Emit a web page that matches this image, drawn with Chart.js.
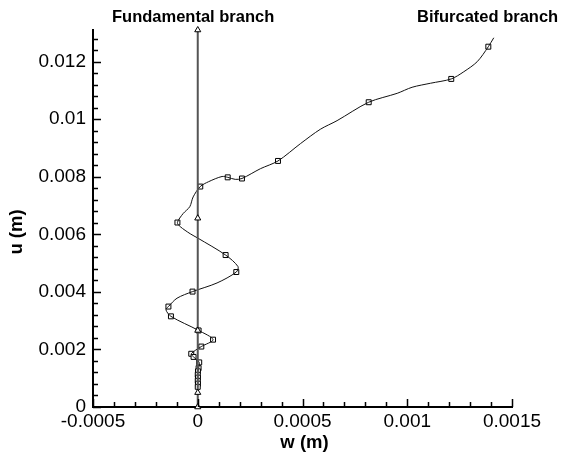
<!DOCTYPE html>
<html>
<head>
<meta charset="utf-8">
<script src="https://cdn.jsdelivr.net/npm/chart.js@4/dist/chart.umd.min.js"></script>
<style>
  html, body { margin: 0; padding: 0; background: #fff; }
  #wrap { width: 562px; height: 454px; }
</style>
</head>
<body>
<div id="wrap"><canvas id="chart" width="562" height="454"></canvas></div>
<script>
// 轴刻度
const xTickValues = [-0.0005, 0, 0.0005, 0.001, 0.0015];
const xTickLabels = ['-0.0005', '0', '0.0005', '0.001', '0.0015'];
const yTickValues = [0, 0.002, 0.004, 0.006, 0.008, 0.01, 0.012];
const yTickLabels = ['0', '0.002', '0.004', '0.006', '0.008', '0.01', '0.012'];
const xMinorStep = 0.0001;
const yMinorStep = 0.0004;

// Fundamental branch (w = 0)
const fundW = [0, 0, 0, 0, 0];
const fundU = [0, 0.0005, 0.00266, 0.00656, 0.0131];

// Bifurcated branch - curve path
const bifCurveW = [0.001413, 0.001387, 0.001334, 0.00127, 0.00121, 0.001111, 0.001023, 0.000952, 0.000816,
  0.000665, 0.000585, 0.00049, 0.000383, 0.000299, 0.000211, 0.000179, 0.000143, 0.000116, 0.000052,
  0.000012, -0.000022, -0.000038, -0.00007, -0.000097, -0.000084, -0.000036, 0, 0.000133, 0.000192,
  0.000184, 0.000092, -0.000025, -0.000099, -0.00014, -0.000152, -0.000128, 0.000004, 0.000073,
  0.000017, -0.000031, -0.00002, 0.000007, 0.000004, 0.000001, 0, 0.000001, 0, 0.000001, 0];
const bifCurveU = [0.01283, 0.01252, 0.012, 0.01165, 0.0114, 0.01125, 0.01111, 0.0109, 0.01059,
  0.00995, 0.00965, 0.00915, 0.00855, 0.00828, 0.00794, 0.00791, 0.00798, 0.00801, 0.00783,
  0.00766, 0.0073, 0.00696, 0.00672, 0.00641, 0.00627, 0.00602, 0.00587, 0.00528, 0.00488,
  0.00469, 0.00431, 0.00401, 0.00378, 0.00349, 0.00338, 0.00315, 0.00266, 0.00234,
  0.0021, 0.00185, 0.00174, 0.00155, 0.00135, 0.00124, 0.00112, 0.00102, 0.00091, 0.00081, 0.0007];

// Bifurcated branch - square markers
const bifMarkW = [0.001387, 0.00121, 0.000816, 0.000383, 0.000211, 0.000143, 0.000012, -0.000097,
  0.000133, 0.000184, -0.000025, -0.00014, -0.000128, 0.000004, 0.000073, 0.000017, -0.000031,
  -0.00002, 0.000007, 0.000004, 0.000001, 0, 0.000001, 0, 0.000001, 0];
const bifMarkU = [0.01252, 0.0114, 0.01059, 0.00855, 0.00794, 0.00798, 0.00766, 0.00641,
  0.00528, 0.00469, 0.00401, 0.00349, 0.00315, 0.00266, 0.00234, 0.0021, 0.00185,
  0.00174, 0.00155, 0.00135, 0.00124, 0.00112, 0.00102, 0.00091, 0.00081, 0.0007];

const toPoints = (ws, us) => ws.map((w, i) => ({ x: w, y: us[i] }));

const FONT = "'Liberation Sans', Arial, sans-serif";

// 向内画刻度, 以及标注文字
const decorPlugin = {
  id: 'decor',
  afterDraw(chart) {
    const { ctx, chartArea, scales } = chart;
    const xs = scales.x, ys = scales.y;
    ctx.save();
    ctx.strokeStyle = '#000';
    ctx.lineWidth = 1.5;
    ctx.beginPath();
    for (let v = xs.min; v <= xs.max + 1e-12; v += xMinorStep) {
      const major = xTickValues.some(t => Math.abs(t - v) < 1e-9);
      const px = Math.round(xs.getPixelForValue(v)) + 0.5;
      ctx.moveTo(px, chartArea.bottom);
      ctx.lineTo(px, chartArea.bottom - (major ? 8 : 5));
    }
    for (let v = ys.min; v <= ys.max + 1e-12; v += yMinorStep) {
      const major = yTickValues.some(t => Math.abs(t - v) < 1e-9);
      const py = Math.round(ys.getPixelForValue(v)) + 0.5;
      ctx.moveTo(chartArea.left, py);
      ctx.lineTo(chartArea.left + (major ? 8 : 5), py);
    }
    ctx.stroke();

    ctx.fillStyle = '#000';
    ctx.font = 'bold 16.5px ' + FONT;
    ctx.textBaseline = 'alphabetic';
    ctx.textAlign = 'left';
    ctx.fillText('Fundamental branch', 112, 21.5);
    ctx.fillText('Bifurcated branch', 417, 21.5);

    ctx.font = 'bold 18.5px ' + FONT;
    ctx.textAlign = 'center';
    ctx.textBaseline = 'middle';
    ctx.fillText('w (m)', (chartArea.left + chartArea.right) / 2 + 2, 443);
    ctx.translate(17, 232);
    ctx.rotate(-Math.PI / 2);
    ctx.fillText('u (m)', 0, 0);
    ctx.restore();
  }
};

new Chart(document.getElementById('chart'), {
  type: 'scatter',
  data: {
    datasets: [
      {
        label: 'Fundamental branch',
        data: toPoints(fundW, fundU),
        showLine: true,
        borderColor: '#555',
        borderWidth: 2,
        pointStyle: 'triangle',
        pointRadius: 3.5,
        pointBackgroundColor: '#fff',
        pointBorderColor: '#000',
        pointBorderWidth: 1,
        clip: false
      },
      {
        label: 'Bifurcated branch curve',
        data: toPoints(bifCurveW, bifCurveU),
        showLine: true,
        borderColor: '#111',
        borderWidth: 1,
        tension: 0.3,
        pointRadius: 0,
        clip: false
      },
      {
        label: 'Bifurcated branch',
        data: toPoints(bifMarkW, bifMarkU),
        showLine: false,
        pointStyle: 'rect',
        pointRadius: 3.5,
        pointBackgroundColor: '#fff',
        pointBorderColor: '#000',
        pointBorderWidth: 1,
        clip: false
      }
    ]
  },
  options: {
    responsive: false,
    animation: false,
    layout: { padding: { left: 0, right: 50, top: 30, bottom: 0 } },
    plugins: {
      legend: { display: false },
      tooltip: { enabled: false }
    },
    scales: {
      x: {
        type: 'linear',
        min: -0.0005,
        max: 0.0015,
        grid: { display: false, drawTicks: false },
        border: { display: true, color: '#000', width: 2 },
        afterBuildTicks: scale => { scale.ticks = xTickValues.map(v => ({ value: v })); },
        afterFit: scale => { scale.height = 47; },
        ticks: {
          color: '#000',
          font: { family: FONT, size: 19 },
          padding: 3,
          maxRotation: 0,
          callback: (value, index) => xTickLabels[index]
        }
      },
      y: {
        type: 'linear',
        min: 0,
        max: 0.0131,
        grid: { display: false, drawTicks: false },
        border: { display: true, color: '#000', width: 2 },
        afterBuildTicks: scale => { scale.ticks = yTickValues.map(v => ({ value: v })); },
        afterFit: scale => { scale.width = 93; },
        ticks: {
          color: '#000',
          font: { family: FONT, size: 19 },
          padding: 7,
          callback: (value, index) => yTickLabels[index]
        }
      }
    }
  },
  plugins: [decorPlugin]
});
</script>
</body>
</html>
